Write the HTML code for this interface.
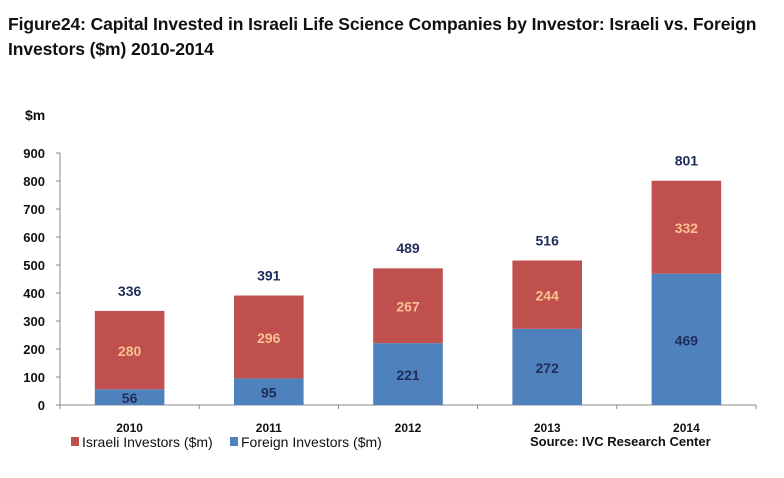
<!DOCTYPE html>
<html><head><meta charset="utf-8"><style>
body{margin:0;background:#fff;width:784px;height:478px;overflow:hidden;font-family:"Liberation Sans",sans-serif}
#title{position:absolute;left:8px;top:12px;font-size:17.5px;font-weight:bold;line-height:25px;color:#111;letter-spacing:-0.1px}
svg{position:absolute;left:0;top:0}
</style></head><body>
<div id="title">Figure24: Capital Invested in Israeli Life Science Companies by Investor: Israeli vs. Foreign<br>Investors ($m) 2010-2014</div>
<svg id="c" width="784" height="478"></svg>
<script>
const categories=["2010","2011","2012","2013","2014"];
const foreign=[56,95,221,272,469];
const israeli=[280,296,267,244,332];
const totals=[336,391,489,516,801];
const yTicks=[0,100,200,300,400,500,600,700,800,900];
const svg=document.getElementById('c');
const NS="http://www.w3.org/2000/svg";
const x0=60,x1=756,y0=405,y9=153,ymax=900;
const bw=(x1-x0)/categories.length;
function y(v){return y0-(v/ymax)*(y0-y9);}
function xc(i){return x0+bw*(i+0.5);}
function el(t,a,txt){const e=document.createElementNS(NS,t);for(const k in a)e.setAttribute(k,a[k]);if(txt!==undefined)e.textContent=txt;svg.appendChild(e);return e;}
let e;
e=el('line',{x1:x0,y1:y9,x2:x0,y2:y0,stroke:'#888','stroke-width':1});


e=el('line',{x1:x0,y1:y0,x2:x1,y2:y0,stroke:'#888','stroke-width':1});


e=el('text',{x:25,y:120,'font-size':14,'font-weight':'bold',fill:'#111'},'$m');


yTicks.forEach(v=>{
 el('line',{x1:x0-4,y1:y(v),x2:x0,y2:y(v),stroke:'#888'});
 e=el('text',{x:45,y:y(v)+5,'font-size':13,'font-weight':'bold','text-anchor':'end',fill:'#111'},v);
 
 
});
for(let i=0;i<=categories.length;i++){el('line',{x1:x0+bw*i,y1:y0,x2:x0+bw*i,y2:y0+4,stroke:'#888'});}
categories.forEach((c,i)=>{
 const cx=xc(i),w=bw/2;
 e=el('rect',{x:cx-w/2,y:y(foreign[i]),width:w,height:y0-y(foreign[i]),fill:'#4f81bd'});
 
 
 e=el('rect',{x:cx-w/2,y:y(foreign[i]+israeli[i]),width:w,height:y(foreign[i])-y(foreign[i]+israeli[i]),fill:'#c0504d'});
 
 
 e=el('text',{x:cx,y:(y0+y(foreign[i]))/2+6,'font-size':14,'font-weight':'bold','text-anchor':'middle',fill:'#1f2d5c'},foreign[i]);
 
 
 e=el('text',{x:cx,y:(y(foreign[i])+y(foreign[i]+israeli[i]))/2+6,'font-size':14,'font-weight':'bold','text-anchor':'middle',fill:'#fac090'},israeli[i]);
 
 
 e=el('text',{x:cx,y:y(totals[i])-15,'font-size':14,'font-weight':'bold','text-anchor':'middle',fill:'#1f2d5c'},totals[i]);
 
 
 e=el('text',{x:cx,y:432,'font-size':12,'font-weight':'bold','text-anchor':'middle',fill:'#111'},c);
 
 
});
e=el('rect',{x:71,y:437,width:8,height:9,fill:'#c0504d'});


e=el('text',{x:82,y:447,'font-size':14,fill:'#111'},'Israeli Investors ($m)');


e=el('rect',{x:230,y:437,width:8,height:9,fill:'#4f81bd'});


e=el('text',{x:241,y:447,'font-size':14,fill:'#111'},'Foreign Investors ($m)');


e=el('text',{x:530,y:446,'font-size':13,'font-weight':'bold',fill:'#111'},'Source: IVC Research Center');


</script>
</body></html>
